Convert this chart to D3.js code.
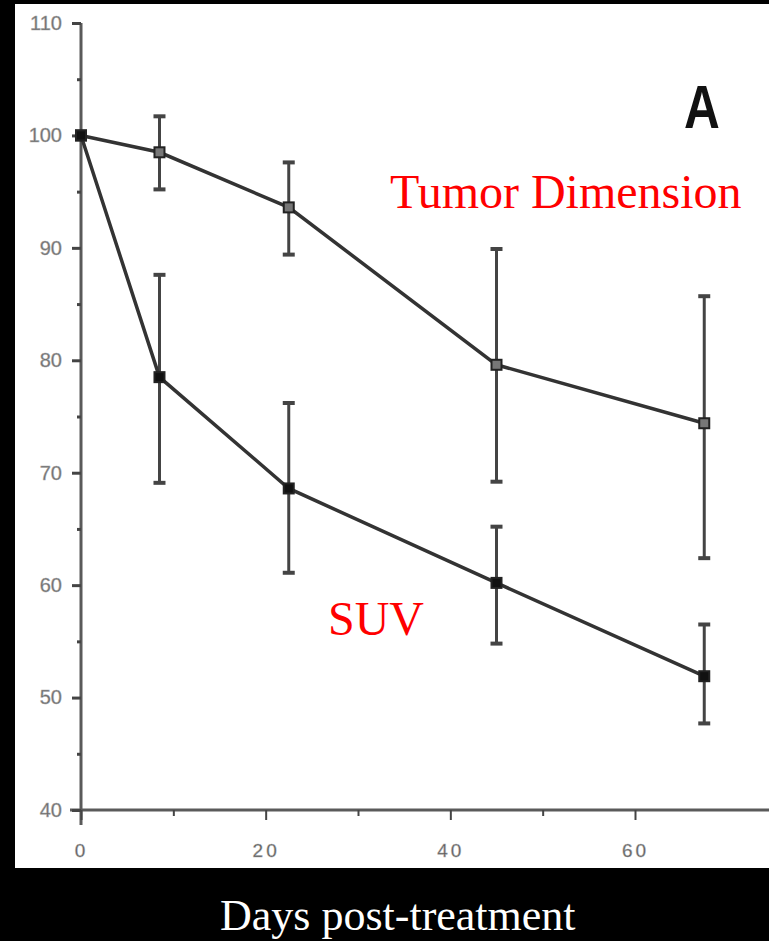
<!DOCTYPE html>
<html>
<head>
<meta charset="utf-8">
<script src="https://cdn.jsdelivr.net/npm/d3@7"></script>
<style>
  html, body { margin: 0; padding: 0; background: #000; }
  svg { display: block; }
</style>
</head>
<body>
<script>
// ---- data ----
var days = [0, 8.5, 22.5, 45, 67.5];
var tumorMean = [100, 98.5, 93.6, 79.6, 74.4];
var tumorHigh = [100, 101.7, 97.6, 89.9, 85.7];
var tumorLow  = [100, 95.2, 89.4, 69.2, 62.4];
var suvMean = [100, 78.5, 68.6, 60.2, 51.9];
var suvHigh = [100, 87.6, 76.2, 65.2, 56.5];
var suvLow  = [100, 69.1, 61.1, 54.8, 47.7];
var yMajor = [40, 50, 60, 70, 80, 90, 100, 110];
var yMinor = [45, 55, 65, 75, 85, 95, 105];
var xMajor = [0, 20, 40, 60];
var xMinor = [10, 30, 50];

var W = 769, H = 941;
var svg = d3.select("body").append("svg")
  .attr("width", W).attr("height", H);

svg.append("rect").attr("width", W).attr("height", H).attr("fill", "#000");
// white scanned panel
svg.append("rect").attr("x", 15).attr("y", 4)
  .attr("width", W - 15).attr("height", 864).attr("fill", "#fff");

var x = d3.scaleLinear().domain([0, 60]).range([81, 635]);
var y = d3.scaleLinear().domain([40, 110]).range([810, 23]);

var axisColor = "#5a5a5a";
var lineColor = "#333";

// axis lines
svg.append("line")
  .attr("x1", x(0)).attr("x2", x(0))
  .attr("y1", y(110)).attr("y2", y(40) + 15)
  .attr("stroke", axisColor).attr("stroke-width", 3);
svg.append("line")
  .attr("x1", x(0) - 11).attr("x2", W)
  .attr("y1", y(40)).attr("y2", y(40))
  .attr("stroke", axisColor).attr("stroke-width", 3);

// y axis ticks + labels
var yAxis = svg.append("g").attr("transform", "translate(" + x(0) + ",0)")
  .call(d3.axisLeft(y).tickValues(yMajor).tickSize(9).tickPadding(10)
    .tickFormat(d3.format("d")));
yAxis.select(".domain").remove();
yAxis.selectAll(".tick line").attr("stroke", "#444").attr("stroke-width", 3);
yAxis.selectAll(".tick text")
  .attr("fill", "#6a6a6a").attr("font-family", "Liberation Sans, Arial, sans-serif")
  .attr("font-size", 20)
  .attr("stroke", "#aaa").attr("stroke-width", 0.5);

var yMin = svg.append("g").attr("transform", "translate(" + x(0) + ",0)")
  .call(d3.axisLeft(y).tickValues(yMinor).tickSize(4).tickFormat(""));
yMin.select(".domain").remove();
yMin.selectAll(".tick line").attr("stroke", "#444").attr("stroke-width", 3);

// x axis ticks + labels
var xAxis = svg.append("g").attr("transform", "translate(0," + y(40) + ")")
  .call(d3.axisBottom(x).tickValues(xMajor).tickSize(10).tickPadding(24)
    .tickFormat(d3.format("d")));
xAxis.select(".domain").remove();
xAxis.selectAll(".tick line").attr("stroke", "#444").attr("stroke-width", 2);
xAxis.selectAll(".tick text")
  .attr("fill", "#5a5a5a").attr("font-family", "Liberation Sans, Arial, sans-serif")
  .attr("font-size", 19).attr("letter-spacing", "3px")
  .attr("stroke", "#aaa").attr("stroke-width", 0.5);

var xMin = svg.append("g").attr("transform", "translate(0," + y(40) + ")")
  .call(d3.axisBottom(x).tickValues(xMinor).tickSize(6).tickFormat(""));
xMin.select(".domain").remove();
xMin.selectAll(".tick line").attr("stroke", "#444").attr("stroke-width", 2);

// series
function drawSeries(mean, high, low, filled) {
  var pts = days.map(function(d, i) {
    return { d: d, m: mean[i], hi: high[i], lo: low[i] };
  });
  var g = svg.append("g");
  var errs = pts.filter(function(p) { return p.hi !== p.lo; });
  g.selectAll(".err").data(errs).enter().append("line")
    .attr("x1", function(p) { return x(p.d); })
    .attr("x2", function(p) { return x(p.d); })
    .attr("y1", function(p) { return y(p.hi); })
    .attr("y2", function(p) { return y(p.lo); })
    .attr("stroke", "#444").attr("stroke-width", 3);
  ["hi", "lo"].forEach(function(k) {
    g.selectAll(".cap" + k).data(errs).enter().append("line")
      .attr("x1", function(p) { return x(p.d) - 6; })
      .attr("x2", function(p) { return x(p.d) + 6; })
      .attr("y1", function(p) { return y(p[k]); })
      .attr("y2", function(p) { return y(p[k]); })
      .attr("stroke", "#444").attr("stroke-width", 4);
  });
  g.append("path").datum(pts)
    .attr("d", d3.line().x(function(p) { return x(p.d); }).y(function(p) { return y(p.m); }))
    .attr("fill", "none").attr("stroke", lineColor).attr("stroke-width", 3.5);
  g.selectAll(".mk").data(pts).enter().append("rect")
    .attr("x", function(p) { return x(p.d) - 5; })
    .attr("y", function(p) { return y(p.m) - 5; })
    .attr("width", 10).attr("height", 10)
    .attr("fill", filled ? "#111" : "#777")
    .attr("stroke", "#222").attr("stroke-width", 2);
}
drawSeries(tumorMean, tumorHigh, tumorLow, false);
drawSeries(suvMean, suvHigh, suvLow, true);

// annotations
svg.append("text")
  .attr("transform", "translate(702,128) scale(0.8,1)")
  .attr("text-anchor", "middle")
  .attr("font-family", "Liberation Sans, Arial, sans-serif")
  .attr("font-weight", "bold").attr("font-size", 62).attr("fill", "#111")
  .text("A");

svg.append("text").attr("x", 390).attr("y", 208)
  .attr("font-family", "Liberation Serif, Times New Roman, serif")
  .attr("font-size", 48).attr("fill", "#ff0000")
  .text("Tumor Dimension");

svg.append("text").attr("x", 328).attr("y", 635)
  .attr("font-family", "Liberation Serif, Times New Roman, serif")
  .attr("font-size", 48).attr("fill", "#ff0000")
  .text("SUV");

svg.append("text").attr("x", 220).attr("y", 930)
  .attr("font-family", "Liberation Serif, Times New Roman, serif")
  .attr("font-size", 44).attr("fill", "#fff")
  .text("Days post-treatment");
</script>
</body>
</html>
